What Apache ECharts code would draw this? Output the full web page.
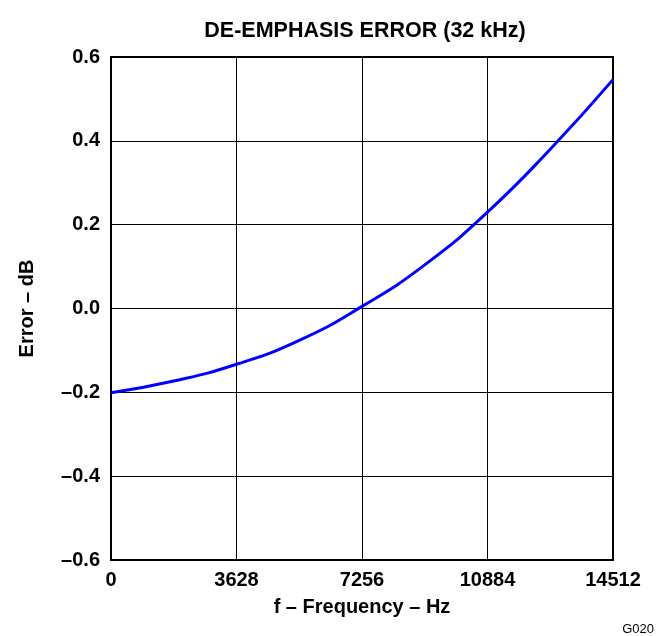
<!DOCTYPE html>
<html>
<head>
<meta charset="utf-8">
<script src="https://cdn.jsdelivr.net/npm/echarts@6/dist/echarts.min.js"></script>
<style>html,body{margin:0;padding:0;background:#fff}#c{width:660px;height:636px}</style>
</head>
<body>
<div id="c"></div>
<script>
var freqHz = [0, 1814, 3628, 5442, 7256, 9070, 10884, 12698, 14512];
var errorDb = [-0.201, -0.173, -0.133, -0.076, 0.005, 0.104, 0.230, 0.380, 0.546];
var xTicks = [0, 3628, 7256, 10884, 14512];
var titleText = 'DE-EMPHASIS ERROR (32 kHz)';
var xName = 'f \u2013 Frequency \u2013 Hz';
var yName = 'Error \u2013 dB';
var FONT = 'Liberation Sans, Arial, sans-serif';

var chart = echarts.init(document.getElementById('c'));
chart.setOption({
  animation: false,
  title: {
    text: titleText, left: 360, top: 15, textAlign: 'center',
    textStyle: {fontFamily: FONT, fontSize: 21.5, fontWeight: 'bold', color: '#000'}
  },
  graphic: [{
    type: 'text', right: 6, top: 623,
    style: {text: 'G020', font: '13px Liberation Sans, Arial, sans-serif', fill: '#000'}
  }],
  grid: {left: 111, top: 57, right: 47, bottom: 76, show: true, borderColor: '#000', borderWidth: 2, backgroundColor: 'transparent'},
  xAxis: {
    type: 'value', min: 0, max: 14512, interval: 3628,
    name: xName, nameLocation: 'middle', nameGap: 37,
    nameTextStyle: {fontFamily: FONT, fontSize: 20, fontWeight: 'bold', color: '#000'},
    axisLine: {show: true, onZero: false, lineStyle: {color: '#000', width: 2}},
    axisTick: {show: false},
    axisLabel: {margin: 10, fontFamily: FONT, fontSize: 20, fontWeight: 'bold', color: '#000',
      formatter: function (v) { return xTicks.indexOf(v) >= 0 ? String(v) : ''; }},
    splitLine: {show: true, lineStyle: {color: '#000', width: 1}}
  },
  yAxis: {
    type: 'value', min: -0.6, max: 0.6, interval: 0.2,
    name: yName, nameLocation: 'middle', nameGap: 74, nameRotate: 90,
    nameTextStyle: {fontFamily: FONT, fontSize: 20, fontWeight: 'bold', color: '#000'},
    axisLine: {show: true, onZero: false, lineStyle: {color: '#000', width: 2}},
    axisTick: {show: false},
    axisLabel: {margin: 11, fontFamily: FONT, fontSize: 20, fontWeight: 'bold', color: '#000',
      formatter: function (v) { return (Math.abs(v) < 1e-9 ? 0 : v).toFixed(1).replace('-', '\u2013'); }},
    splitLine: {show: true, lineStyle: {color: '#000', width: 1}}
  },
  series: [{
    type: 'line', smooth: 0.5, symbol: 'none',
    data: freqHz.map(function (f, i) { return [f, errorDb[i]]; }),
    lineStyle: {color: '#0000FF', width: 3}
  }]
});
</script>
</body>
</html>
